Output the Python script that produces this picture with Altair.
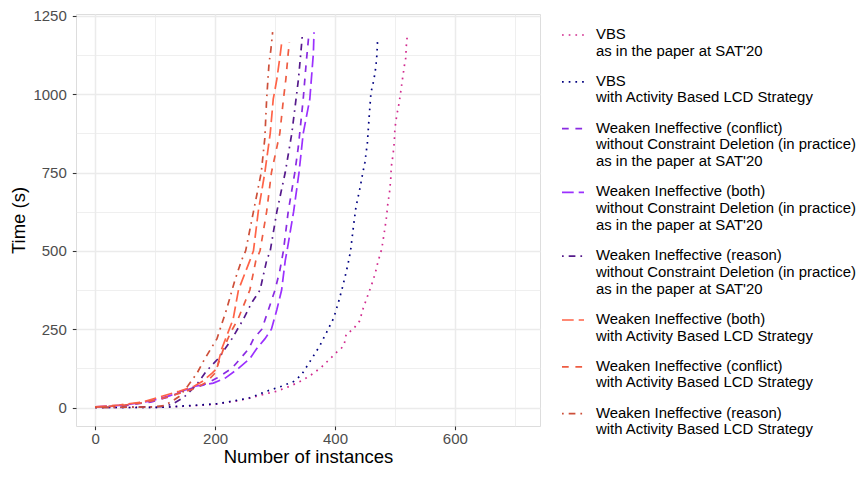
import altair as alt
import pandas as pd

SERIES = [
    "VBS|as in the paper at SAT'20",
    "VBS|with Activity Based LCD Strategy",
    "Weaken Ineffective (conflict)|without Constraint Deletion (in practice)|as in the paper at SAT'20",
    "Weaken Ineffective (both)|without Constraint Deletion (in practice)|as in the paper at SAT'20",
    "Weaken Ineffective (reason)|without Constraint Deletion (in practice)|as in the paper at SAT'20",
    "Weaken Ineffective (both)|with Activity Based LCD Strategy",
    "Weaken Ineffective (conflict)|with Activity Based LCD Strategy",
    "Weaken Ineffective (reason)|with Activity Based LCD Strategy",
]
COLORS = ["#D12A8E", "#000080", "#8A2BE2", "#9B30FF", "#551A8B", "#FF6347", "#EE5C42", "#CD4F39"]
DOT = [1.7, 5]
DASH = [6.7, 6.7]
LONG = [11.7, 5]
DOTDASH = [1.7, 5, 6.7, 5]
DASHES = [DOT, DOT, DASH, LONG, DOTDASH, LONG, DASH, DOTDASH]

vbs_sat20_n = [0, 60, 119, 147, 175, 203, 231, 258, 281, 303, 325, 347, 364, 378, 392, 403, 408, 415, 419, 430,
               435, 441, 447, 454, 461, 467, 472, 478, 483, 486, 488, 491, 493, 494, 497, 499, 500, 503, 507, 510,
               513, 516, 518, 519, 520, 521]
vbs_sat20_t = [0, 0, 1, 4, 7, 11, 19, 30, 42, 52, 68, 88, 109, 130, 156, 177, 184, 198, 236, 248,
               262, 276, 316, 354, 391, 427, 467, 506, 568, 609, 648, 687, 729, 769, 809, 849, 891, 932, 972, 1012,
               1054, 1094, 1115, 1154, 1175, 1196]

vbs_act_n = [0, 60, 119, 147, 175, 203, 231, 258, 286, 311, 331, 344, 358, 375, 386, 398, 407, 412, 417, 422,
             426, 431, 435, 442, 446, 450, 454, 457, 460, 465, 468, 470, 471]
vbs_act_t = [0, 0, 1, 5, 8, 12, 21, 31, 52, 68, 83, 104, 146, 198, 240, 286, 344, 380, 419, 460,
             500, 581, 640, 703, 745, 783, 844, 927, 1005, 1047, 1085, 1127, 1170]

conf_wo_n = [0, 50, 94, 125, 144, 167, 181, 203, 228, 242, 256, 264, 278, 289, 300, 308, 314, 322, 333, 339,
             347, 352, 356]
conf_wo_t = [1, 6, 18, 35, 50, 65, 72, 94, 125, 156, 187, 219, 250, 312, 375, 437, 500, 625, 750, 834,
             984, 1100, 1182]

both_wo_n = [0, 50, 94, 125, 144, 167, 197, 217, 239, 258, 269, 283, 294, 303, 311, 317, 320, 331, 340, 347,
             358, 364, 365]
both_wo_t = [2, 8, 21, 38, 52, 68, 78, 94, 125, 156, 187, 219, 250, 312, 375, 469, 500, 625, 750, 875,
             984, 1131, 1198]

reas_wo_n = [0, 60, 110, 128, 147, 169, 185, 205, 228, 247, 261, 275, 286, 292, 303, 317, 328, 331, 335, 339,
             343, 346]
reas_wo_t = [0, 1, 3, 10, 31, 72, 115, 156, 219, 281, 334, 375, 469, 500, 625, 750, 875, 922, 984, 1047,
             1131, 1198]

both_w_n = [0, 40, 80, 110, 140, 165, 180, 195, 203, 211, 230, 239, 258, 264, 272, 283, 292, 297, 303, 309, 311]
both_w_t = [2, 8, 18, 35, 52, 68, 85, 110, 125, 187, 281, 375, 469, 500, 625, 750, 875, 984, 1047, 1131, 1163]

conf_w_n = [0, 40, 80, 110, 140, 165, 185, 200, 214, 226, 238, 258, 268, 275, 286, 294, 308, 314, 318, 322, 324]
conf_w_t = [1, 6, 15, 28, 45, 60, 80, 110, 187, 240, 281, 375, 469, 500, 625, 750, 875, 984, 1047, 1131, 1166]

reas_w_n = [0, 50, 100, 115, 128, 140, 155, 170, 183, 203, 219, 233, 244, 251, 264, 277, 283, 286, 290, 293, 296]
reas_w_t = [0, 1, 2, 6, 20, 35, 70, 110, 156, 219, 312, 406, 469, 500, 625, 750, 860, 984, 1099, 1141, 1198]

X_TICKS = [0, 100, 200, 300, 400, 500, 600, 700]
Y_TICKS = [0, 125, 250, 375, 500, 625, 750, 875, 1000, 1125, 1250]

series_data = [
    (vbs_sat20_n, vbs_sat20_t), (vbs_act_n, vbs_act_t), (conf_wo_n, conf_wo_t), (both_wo_n, both_wo_t),
    (reas_wo_n, reas_wo_t), (both_w_n, both_w_t), (conf_w_n, conf_w_t), (reas_w_n, reas_w_t),
]
rows = []
for name, (ns, ts) in zip(SERIES, series_data):
    for i, (n, t) in enumerate(zip(ns, ts)):
        rows.append({"series": name, "n": n, "t": t, "order": i})
df = pd.DataFrame(rows)

FONT = "Liberation Sans"

legend = alt.Legend(
    title=None, orient="none", legendX=485, legendY=9, padding=0,
    labelExpr="split(datum.label, '|')", labelBaseline="middle",
    labelFont=FONT, labelFontSize=14.9, labelColor="black", labelLimit=600, labelOffset=11,
    rowPadding=10.8, symbolType="stroke", symbolSize=484, symbolStrokeWidth=1.7,
)

x_axis = alt.Axis(
    values=X_TICKS, labelExpr="datum.value % 200 == 0 ? datum.label : ''",
    title="Number of instances", format="d",
    gridWidth={"condition": {"test": "datum.value % 200 == 0", "value": 1.5}, "value": 0.8},
    tickOpacity={"condition": {"test": "datum.value % 200 == 0", "value": 1}, "value": 0},
    gridColor="#EBEBEB", tickColor="#333333", tickSize=3.7, tickWidth=1.1, domain=False,
    labelFont=FONT, labelFontSize=15, labelColor="#4D4D4D", labelPadding=2,
    titleFont=FONT, titleFontSize=18.5, titleFontWeight="normal", titleColor="black", titlePadding=1,
)
y_axis = alt.Axis(
    values=Y_TICKS, labelExpr="datum.value % 250 == 0 ? datum.label : ''",
    title="Time (s)", format="d",
    gridWidth={"condition": {"test": "datum.value % 250 == 0", "value": 1.5}, "value": 0.8},
    tickOpacity={"condition": {"test": "datum.value % 250 == 0", "value": 1}, "value": 0},
    gridColor="#EBEBEB", tickColor="#333333", tickSize=3.7, tickWidth=1.1, domain=False,
    labelFont=FONT, labelFontSize=15, labelColor="#4D4D4D", labelPadding=6,
    titleFont=FONT, titleFontSize=18.5, titleFontWeight="normal", titleColor="black", titlePadding=4,
)

chart = alt.Chart(df).mark_line(strokeWidth=1.7, strokeCap="butt", clip=True).encode(
    x=alt.X("n:Q", scale=alt.Scale(domain=[-32, 742], nice=False, zero=False), axis=x_axis),
    y=alt.Y("t:Q", scale=alt.Scale(domain=[-59, 1256], nice=False, zero=False), axis=y_axis),
    color=alt.Color("series:N", scale=alt.Scale(domain=SERIES, range=COLORS), legend=legend),
    strokeDash=alt.StrokeDash("series:N", scale=alt.Scale(domain=SERIES, range=DASHES), legend=legend),
    order="order:Q",
).properties(
    width=464, height=412,
    padding={"left": 68, "top": 6, "right": 317, "bottom": 43},
    autosize=alt.AutoSizeParams(type="none"),
).configure_view(stroke="#333333", strokeWidth=1.1).configure(
    background="white", style={"guide-label": {"lineHeight": 16.7}}
)

chart.save("out.html", embed_options={"renderer": "svg", "actions": False})
